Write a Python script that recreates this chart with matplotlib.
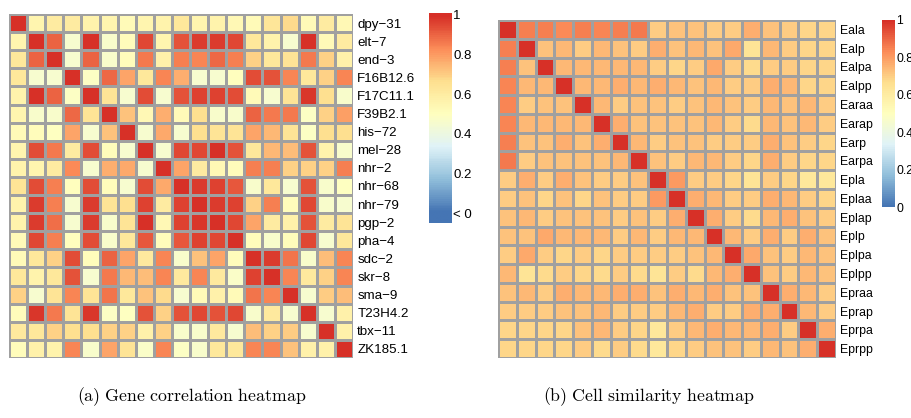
import numpy as np
import matplotlib
matplotlib.use("Agg")
import matplotlib.pyplot as plt
from matplotlib.colors import LinearSegmentedColormap, Normalize

plt.rcParams["mathtext.fontset"] = "cm"

genes = ["dpy−31", "elt−7", "end−3", "F16B12.6", "F17C11.1", "F39B2.1", "his−72",
         "mel−28", "nhr−2", "nhr−68", "nhr−79", "pgp−2", "pha−4", "sdc−2", "skr−8",
         "sma−9", "T23H4.2", "tbx−11", "ZK185.1"]

gene_corr = [
    [1.00, 0.55, 0.60, 0.60, 0.56, 0.55, 0.52, 0.55, 0.57, 0.62, 0.55, 0.57, 0.53, 0.52, 0.63, 0.67, 0.52, 0.60, 0.53],
    [0.55, 1.00, 0.90, 0.45, 0.99, 0.46, 0.51, 0.95, 0.55, 0.93, 0.97, 0.97, 0.95, 0.62, 0.56, 0.45, 0.99, 0.52, 0.60],
    [0.62, 0.90, 1.00, 0.45, 0.90, 0.46, 0.51, 0.86, 0.58, 0.85, 0.84, 0.89, 0.85, 0.69, 0.62, 0.64, 0.86, 0.69, 0.58],
    [0.62, 0.45, 0.45, 1.00, 0.48, 0.89, 0.78, 0.62, 0.84, 0.76, 0.45, 0.45, 0.50, 0.94, 0.93, 0.84, 0.62, 0.69, 0.84],
    [0.56, 0.99, 0.90, 0.48, 1.00, 0.64, 0.45, 0.94, 0.45, 0.93, 0.96, 0.96, 0.94, 0.52, 0.45, 0.64, 0.98, 0.66, 0.46],
    [0.55, 0.46, 0.46, 0.89, 0.64, 1.00, 0.72, 0.53, 0.76, 0.52, 0.66, 0.46, 0.46, 0.90, 0.86, 0.86, 0.48, 0.69, 0.79],
    [0.52, 0.51, 0.49, 0.78, 0.45, 0.72, 1.00, 0.45, 0.77, 0.45, 0.66, 0.64, 0.64, 0.78, 0.74, 0.64, 0.48, 0.66, 0.66],
    [0.55, 0.94, 0.86, 0.60, 0.94, 0.51, 0.45, 1.00, 0.45, 0.95, 0.95, 1.00, 0.93, 0.62, 0.74, 0.73, 0.93, 0.56, 0.46],
    [0.57, 0.55, 0.60, 0.83, 0.45, 0.76, 0.77, 0.45, 1.00, 0.78, 0.60, 0.53, 0.51, 0.85, 0.85, 0.69, 0.69, 0.69, 0.85],
    [0.64, 0.94, 0.85, 0.50, 0.94, 0.51, 0.45, 0.94, 0.77, 1.00, 0.97, 0.96, 0.92, 0.46, 0.62, 0.45, 0.93, 0.46, 0.49],
    [0.56, 0.97, 0.85, 0.45, 0.97, 0.64, 0.66, 0.96, 0.60, 0.96, 1.00, 0.97, 0.96, 0.69, 0.85, 0.51, 0.95, 0.46, 0.45],
    [0.57, 0.97, 0.88, 0.45, 0.97, 0.46, 0.64, 1.00, 0.53, 0.96, 0.98, 1.00, 0.95, 0.78, 0.60, 0.58, 0.93, 0.60, 0.64],
    [0.52, 0.95, 0.85, 0.50, 0.94, 0.46, 0.62, 0.92, 0.51, 0.92, 0.96, 0.95, 1.00, 0.51, 0.46, 0.51, 0.95, 0.45, 0.62],
    [0.52, 0.62, 0.69, 0.94, 0.51, 0.90, 0.78, 0.61, 0.84, 0.46, 0.72, 0.78, 0.51, 1.00, 0.97, 0.87, 0.46, 0.73, 0.84],
    [0.62, 0.56, 0.62, 0.93, 0.45, 0.86, 0.74, 0.73, 0.84, 0.61, 0.84, 0.61, 0.47, 0.96, 1.00, 0.84, 0.61, 0.69, 0.84],
    [0.69, 0.45, 0.64, 0.84, 0.64, 0.87, 0.62, 0.72, 0.67, 0.45, 0.52, 0.58, 0.52, 0.87, 0.84, 1.00, 0.45, 0.70, 0.73],
    [0.51, 0.98, 0.86, 0.64, 0.98, 0.48, 0.49, 0.93, 0.69, 0.93, 0.95, 0.93, 0.95, 0.46, 0.61, 0.45, 1.00, 0.45, 0.58],
    [0.61, 0.62, 0.69, 0.66, 0.66, 0.69, 0.69, 0.58, 0.69, 0.46, 0.46, 0.61, 0.45, 0.73, 0.69, 0.70, 0.45, 1.00, 0.58],
    [0.51, 0.58, 0.56, 0.84, 0.46, 0.78, 0.64, 0.47, 0.84, 0.48, 0.46, 0.62, 0.62, 0.84, 0.84, 0.72, 0.58, 0.58, 1.00],
]

cells = ["Eala", "Ealp", "Ealpa", "Ealpp", "Earaa", "Earap", "Earp", "Earpa", "Epla",
         "Eplaa", "Eplap", "Eplp", "Eplpa", "Eplpp", "Epraa", "Eprap", "Eprpa", "Eprpp"]

cell_sim = [
    [1.00, 0.85, 0.85, 0.83, 0.85, 0.84, 0.85, 0.86, 0.70, 0.72, 0.72, 0.70, 0.70, 0.76, 0.72, 0.70, 0.68, 0.68],
    [0.85, 1.00, 0.72, 0.74, 0.70, 0.74, 0.72, 0.70, 0.76, 0.72, 0.74, 0.72, 0.77, 0.64, 0.74, 0.70, 0.68, 0.68],
    [0.85, 0.72, 1.00, 0.74, 0.74, 0.74, 0.74, 0.74, 0.70, 0.68, 0.70, 0.77, 0.70, 0.67, 0.70, 0.70, 0.68, 0.68],
    [0.84, 0.74, 0.74, 1.00, 0.74, 0.74, 0.76, 0.74, 0.76, 0.74, 0.72, 0.74, 0.70, 0.70, 0.76, 0.74, 0.68, 0.68],
    [0.84, 0.70, 0.72, 0.72, 1.00, 0.74, 0.70, 0.72, 0.72, 0.70, 0.72, 0.74, 0.72, 0.70, 0.74, 0.72, 0.74, 0.70],
    [0.84, 0.74, 0.74, 0.74, 0.74, 1.00, 0.76, 0.72, 0.72, 0.72, 0.72, 0.74, 0.70, 0.67, 0.74, 0.72, 0.74, 0.70],
    [0.85, 0.72, 0.72, 0.76, 0.72, 0.76, 1.00, 0.74, 0.70, 0.72, 0.72, 0.70, 0.70, 0.70, 0.76, 0.72, 0.70, 0.68],
    [0.86, 0.70, 0.72, 0.72, 0.72, 0.72, 0.74, 1.00, 0.72, 0.70, 0.74, 0.74, 0.70, 0.68, 0.76, 0.70, 0.68, 0.68],
    [0.70, 0.76, 0.70, 0.76, 0.72, 0.70, 0.70, 0.72, 1.00, 0.80, 0.70, 0.70, 0.68, 0.64, 0.70, 0.68, 0.62, 0.62],
    [0.70, 0.72, 0.68, 0.72, 0.68, 0.72, 0.70, 0.70, 0.80, 1.00, 0.76, 0.74, 0.70, 0.70, 0.76, 0.74, 0.70, 0.68],
    [0.72, 0.74, 0.70, 0.72, 0.72, 0.72, 0.70, 0.72, 0.70, 0.76, 1.00, 0.76, 0.70, 0.67, 0.74, 0.76, 0.72, 0.70],
    [0.72, 0.72, 0.77, 0.74, 0.74, 0.74, 0.70, 0.74, 0.70, 0.74, 0.74, 1.00, 0.74, 0.70, 0.76, 0.70, 0.76, 0.72],
    [0.70, 0.77, 0.70, 0.68, 0.70, 0.68, 0.70, 0.70, 0.70, 0.70, 0.72, 0.74, 1.00, 0.77, 0.72, 0.70, 0.74, 0.72],
    [0.74, 0.64, 0.67, 0.70, 0.68, 0.67, 0.70, 0.67, 0.64, 0.70, 0.67, 0.74, 0.76, 1.00, 0.72, 0.70, 0.74, 0.72],
    [0.72, 0.74, 0.70, 0.76, 0.74, 0.74, 0.76, 0.76, 0.72, 0.76, 0.74, 0.76, 0.72, 0.72, 1.00, 0.76, 0.74, 0.70],
    [0.70, 0.70, 0.70, 0.72, 0.72, 0.74, 0.70, 0.70, 0.70, 0.74, 0.76, 0.70, 0.70, 0.76, 0.76, 1.00, 0.74, 0.70],
    [0.68, 0.68, 0.68, 0.68, 0.72, 0.74, 0.70, 0.68, 0.62, 0.70, 0.74, 0.76, 0.74, 0.74, 0.76, 0.70, 1.00, 0.76],
    [0.68, 0.68, 0.68, 0.68, 0.70, 0.67, 0.70, 0.67, 0.62, 0.68, 0.70, 0.72, 0.72, 0.70, 0.74, 0.72, 0.76, 1.00],
]

gene_ticks = [1.0, 0.8, 0.6, 0.4, 0.2, 0.0]
gene_ticklabels = ["1", "0.8", "0.6", "0.4", "0.2", "< 0"]
cell_ticks = [1.0, 0.8, 0.6, 0.4, 0.2, 0.0]
cell_ticklabels = ["1", "0.8", "0.6", "0.4", "0.2", "0"]

# pheatmap default palette (reversed RdYlBu, 7 colours)
cmap = LinearSegmentedColormap.from_list(
    "pheat", ["#4575B4", "#91BFDB", "#E0F3F8", "#FFFFBF", "#FEE090", "#FC8D59", "#D73027"], N=100)
norm = Normalize(0, 1)

W, H = 912, 418
fig = plt.figure(figsize=(W / 100, H / 100), dpi=100)
LABEL_FONT = "Liberation Sans"


def px_axes(x0, y0, x1, y1):
    return fig.add_axes([x0 / W, 1 - y1 / H, (x1 - x0) / W, (y1 - y0) / H])


def draw_heatmap(ax, mat, labels, fs):
    m = np.array(mat)
    ax.pcolormesh(m, cmap=cmap, norm=norm, edgecolors="#A0A0A0", linewidth=0.9)
    ax.set_xlim(0, m.shape[1])
    ax.set_ylim(m.shape[0], 0)
    ax.set_xticks([])
    ax.set_yticks(np.arange(len(labels)) + 0.5)
    ax.set_yticklabels(labels, fontsize=fs, family=LABEL_FONT)
    ax.yaxis.tick_right()
    ax.tick_params(axis="y", length=0, pad=3)
    for s in ax.spines.values():
        s.set_visible(False)


def draw_legend(cax, lo, hi, ticks, ticklabels, fs):
    grad = np.linspace(lo, hi, 200)[:, None]
    cax.imshow(grad, extent=[0, 1, lo, hi], origin="lower", aspect="auto", cmap=cmap, norm=norm)
    cax.set_xlim(0, 1)
    cax.set_ylim(lo, hi)
    cax.set_xticks([])
    cax.yaxis.tick_right()
    cax.set_yticks(ticks)
    cax.set_yticklabels(ticklabels, fontsize=fs, family=LABEL_FONT)
    cax.tick_params(axis="y", length=0, pad=1)
    for s in cax.spines.values():
        s.set_visible(False)


# (a) gene correlation
ax1 = px_axes(9, 14, 353, 358)
draw_heatmap(ax1, gene_corr, genes, 9.6)
cax1 = px_axes(429, 13, 452, 223)
draw_legend(cax1, -0.05, 1.01, gene_ticks, gene_ticklabels, 9.5)

# (b) cell similarity
ax2 = px_axes(498, 20, 836, 358)
draw_heatmap(ax2, cell_sim, cells, 8.8)
cax2 = px_axes(882, 20, 895, 207)
draw_legend(cax2, 0.0, 1.0, cell_ticks, cell_ticklabels, 8.8)

fig.text(192 / W, 1 - 397 / H, r"$\mathrm{(a)\ Gene\ correlation\ heatmap}$",
         ha="center", va="center", fontsize=12.8)
fig.text(649 / W, 1 - 397 / H, r"$\mathrm{(b)\ Cell\ similarity\ heatmap}$",
         ha="center", va="center", fontsize=12.8)

fig.savefig("out.png", dpi=100)
